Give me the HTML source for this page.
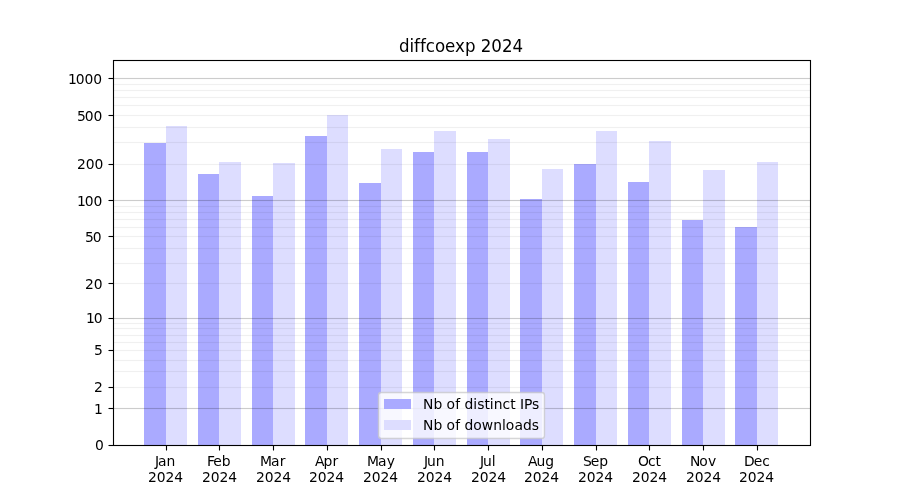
<!DOCTYPE html>
<html lang="en">
<head>
<meta charset="utf-8">
<title>diffcoexp 2024</title>
<style>
html,body{margin:0;padding:0;background:#ffffff;}
body{width:900px;height:500px;overflow:hidden;}
svg{display:block;}
</style>
</head>
<body>
<svg width="900" height="500" viewBox="0 0 900 500">
<rect x="0" y="0" width="900" height="500" fill="#ffffff"/>
<g shape-rendering="crispEdges">
<rect x="144" y="143" width="22" height="302" fill="#aaaaff"/>
<rect x="166" y="126" width="21" height="319" fill="#ddddff"/>
<rect x="198" y="174" width="21" height="271" fill="#aaaaff"/>
<rect x="219" y="162" width="22" height="283" fill="#ddddff"/>
<rect x="252" y="196" width="21" height="249" fill="#aaaaff"/>
<rect x="273" y="163" width="22" height="282" fill="#ddddff"/>
<rect x="305" y="136" width="22" height="309" fill="#aaaaff"/>
<rect x="327" y="115" width="21" height="330" fill="#ddddff"/>
<rect x="359" y="183" width="22" height="262" fill="#aaaaff"/>
<rect x="381" y="149" width="21" height="296" fill="#ddddff"/>
<rect x="413" y="152" width="21" height="293" fill="#aaaaff"/>
<rect x="434" y="131" width="22" height="314" fill="#ddddff"/>
<rect x="467" y="152" width="21" height="293" fill="#aaaaff"/>
<rect x="488" y="139" width="22" height="306" fill="#ddddff"/>
<rect x="520" y="199" width="22" height="246" fill="#aaaaff"/>
<rect x="542" y="169" width="21" height="276" fill="#ddddff"/>
<rect x="574" y="164" width="22" height="281" fill="#aaaaff"/>
<rect x="596" y="131" width="21" height="314" fill="#ddddff"/>
<rect x="628" y="182" width="21" height="263" fill="#aaaaff"/>
<rect x="649" y="141" width="22" height="304" fill="#ddddff"/>
<rect x="682" y="220" width="21" height="225" fill="#aaaaff"/>
<rect x="703" y="170" width="22" height="275" fill="#ddddff"/>
<rect x="735" y="227" width="22" height="218" fill="#aaaaff"/>
<rect x="757" y="162" width="21" height="283" fill="#ddddff"/>
</g>
<g shape-rendering="crispEdges" fill="#000000">
<rect x="166" y="446" width="1" height="4" fill-opacity="1"/><rect x="165" y="446" width="1" height="4" fill-opacity="0.0556"/><rect x="167" y="446" width="1" height="4" fill-opacity="0.0556"/><rect x="166" y="450" width="1" height="1" fill-opacity="0.5"/>
<rect x="219" y="446" width="1" height="4" fill-opacity="1"/><rect x="218" y="446" width="1" height="4" fill-opacity="0.0556"/><rect x="220" y="446" width="1" height="4" fill-opacity="0.0556"/><rect x="219" y="450" width="1" height="1" fill-opacity="0.5"/>
<rect x="273" y="446" width="1" height="4" fill-opacity="1"/><rect x="272" y="446" width="1" height="4" fill-opacity="0.0556"/><rect x="274" y="446" width="1" height="4" fill-opacity="0.0556"/><rect x="273" y="450" width="1" height="1" fill-opacity="0.5"/>
<rect x="327" y="446" width="1" height="4" fill-opacity="1"/><rect x="326" y="446" width="1" height="4" fill-opacity="0.0556"/><rect x="328" y="446" width="1" height="4" fill-opacity="0.0556"/><rect x="327" y="450" width="1" height="1" fill-opacity="0.5"/>
<rect x="381" y="446" width="1" height="4" fill-opacity="1"/><rect x="380" y="446" width="1" height="4" fill-opacity="0.0556"/><rect x="382" y="446" width="1" height="4" fill-opacity="0.0556"/><rect x="381" y="450" width="1" height="1" fill-opacity="0.5"/>
<rect x="434" y="446" width="1" height="4" fill-opacity="1"/><rect x="433" y="446" width="1" height="4" fill-opacity="0.0556"/><rect x="435" y="446" width="1" height="4" fill-opacity="0.0556"/><rect x="434" y="450" width="1" height="1" fill-opacity="0.5"/>
<rect x="488" y="446" width="1" height="4" fill-opacity="1"/><rect x="487" y="446" width="1" height="4" fill-opacity="0.0556"/><rect x="489" y="446" width="1" height="4" fill-opacity="0.0556"/><rect x="488" y="450" width="1" height="1" fill-opacity="0.5"/>
<rect x="542" y="446" width="1" height="4" fill-opacity="1"/><rect x="541" y="446" width="1" height="4" fill-opacity="0.0556"/><rect x="543" y="446" width="1" height="4" fill-opacity="0.0556"/><rect x="542" y="450" width="1" height="1" fill-opacity="0.5"/>
<rect x="596" y="446" width="1" height="4" fill-opacity="1"/><rect x="595" y="446" width="1" height="4" fill-opacity="0.0556"/><rect x="597" y="446" width="1" height="4" fill-opacity="0.0556"/><rect x="596" y="450" width="1" height="1" fill-opacity="0.5"/>
<rect x="649" y="446" width="1" height="4" fill-opacity="1"/><rect x="648" y="446" width="1" height="4" fill-opacity="0.0556"/><rect x="650" y="446" width="1" height="4" fill-opacity="0.0556"/><rect x="649" y="450" width="1" height="1" fill-opacity="0.5"/>
<rect x="703" y="446" width="1" height="4" fill-opacity="1"/><rect x="702" y="446" width="1" height="4" fill-opacity="0.0556"/><rect x="704" y="446" width="1" height="4" fill-opacity="0.0556"/><rect x="703" y="450" width="1" height="1" fill-opacity="0.5"/>
<rect x="757" y="446" width="1" height="4" fill-opacity="1"/><rect x="756" y="446" width="1" height="4" fill-opacity="0.0556"/><rect x="758" y="446" width="1" height="4" fill-opacity="0.0556"/><rect x="757" y="450" width="1" height="1" fill-opacity="0.5"/>
<rect x="109" y="445" width="4" height="1" fill-opacity="1"/><rect x="109" y="444" width="4" height="1" fill-opacity="0.0556"/><rect x="109" y="446" width="4" height="1" fill-opacity="0.0556"/><rect x="108" y="445" width="1" height="1" fill-opacity="0.5"/>
<rect x="109" y="408" width="4" height="1" fill-opacity="1"/><rect x="109" y="407" width="4" height="1" fill-opacity="0.0556"/><rect x="109" y="409" width="4" height="1" fill-opacity="0.0556"/><rect x="108" y="408" width="1" height="1" fill-opacity="0.5"/>
<rect x="109" y="387" width="4" height="1" fill-opacity="1"/><rect x="109" y="386" width="4" height="1" fill-opacity="0.0556"/><rect x="109" y="388" width="4" height="1" fill-opacity="0.0556"/><rect x="108" y="387" width="1" height="1" fill-opacity="0.5"/>
<rect x="109" y="350" width="4" height="1" fill-opacity="1"/><rect x="109" y="349" width="4" height="1" fill-opacity="0.0556"/><rect x="109" y="351" width="4" height="1" fill-opacity="0.0556"/><rect x="108" y="350" width="1" height="1" fill-opacity="0.5"/>
<rect x="109" y="318" width="4" height="1" fill-opacity="1"/><rect x="109" y="317" width="4" height="1" fill-opacity="0.0556"/><rect x="109" y="319" width="4" height="1" fill-opacity="0.0556"/><rect x="108" y="318" width="1" height="1" fill-opacity="0.5"/>
<rect x="109" y="283" width="4" height="1" fill-opacity="1"/><rect x="109" y="282" width="4" height="1" fill-opacity="0.0556"/><rect x="109" y="284" width="4" height="1" fill-opacity="0.0556"/><rect x="108" y="283" width="1" height="1" fill-opacity="0.5"/>
<rect x="109" y="236" width="4" height="1" fill-opacity="1"/><rect x="109" y="235" width="4" height="1" fill-opacity="0.0556"/><rect x="109" y="237" width="4" height="1" fill-opacity="0.0556"/><rect x="108" y="236" width="1" height="1" fill-opacity="0.5"/>
<rect x="109" y="200" width="4" height="1" fill-opacity="1"/><rect x="109" y="199" width="4" height="1" fill-opacity="0.0556"/><rect x="109" y="201" width="4" height="1" fill-opacity="0.0556"/><rect x="108" y="200" width="1" height="1" fill-opacity="0.5"/>
<rect x="109" y="164" width="4" height="1" fill-opacity="1"/><rect x="109" y="163" width="4" height="1" fill-opacity="0.0556"/><rect x="109" y="165" width="4" height="1" fill-opacity="0.0556"/><rect x="108" y="164" width="1" height="1" fill-opacity="0.5"/>
<rect x="109" y="115" width="4" height="1" fill-opacity="1"/><rect x="109" y="114" width="4" height="1" fill-opacity="0.0556"/><rect x="109" y="116" width="4" height="1" fill-opacity="0.0556"/><rect x="108" y="115" width="1" height="1" fill-opacity="0.5"/>
<rect x="109" y="78" width="4" height="1" fill-opacity="1"/><rect x="109" y="77" width="4" height="1" fill-opacity="0.0556"/><rect x="109" y="79" width="4" height="1" fill-opacity="0.0556"/><rect x="108" y="78" width="1" height="1" fill-opacity="0.5"/>
<rect x="114" y="408" width="696" height="1" fill-opacity="0.2"/><rect x="114" y="407" width="696" height="1" fill-opacity="0.01112"/><rect x="114" y="409" width="696" height="1" fill-opacity="0.01112"/>
<rect x="114" y="387" width="696" height="1" fill-opacity="0.06"/><rect x="114" y="386" width="696" height="1" fill-opacity="0.003336"/><rect x="114" y="388" width="696" height="1" fill-opacity="0.003336"/>
<rect x="114" y="371" width="696" height="1" fill-opacity="0.06"/><rect x="114" y="370" width="696" height="1" fill-opacity="0.003336"/><rect x="114" y="372" width="696" height="1" fill-opacity="0.003336"/>
<rect x="114" y="360" width="696" height="1" fill-opacity="0.06"/><rect x="114" y="359" width="696" height="1" fill-opacity="0.003336"/><rect x="114" y="361" width="696" height="1" fill-opacity="0.003336"/>
<rect x="114" y="350" width="696" height="1" fill-opacity="0.06"/><rect x="114" y="349" width="696" height="1" fill-opacity="0.003336"/><rect x="114" y="351" width="696" height="1" fill-opacity="0.003336"/>
<rect x="114" y="342" width="696" height="1" fill-opacity="0.06"/><rect x="114" y="341" width="696" height="1" fill-opacity="0.003336"/><rect x="114" y="343" width="696" height="1" fill-opacity="0.003336"/>
<rect x="114" y="335" width="696" height="1" fill-opacity="0.06"/><rect x="114" y="334" width="696" height="1" fill-opacity="0.003336"/><rect x="114" y="336" width="696" height="1" fill-opacity="0.003336"/>
<rect x="114" y="328" width="696" height="1" fill-opacity="0.06"/><rect x="114" y="327" width="696" height="1" fill-opacity="0.003336"/><rect x="114" y="329" width="696" height="1" fill-opacity="0.003336"/>
<rect x="114" y="323" width="696" height="1" fill-opacity="0.06"/><rect x="114" y="322" width="696" height="1" fill-opacity="0.003336"/><rect x="114" y="324" width="696" height="1" fill-opacity="0.003336"/>
<rect x="114" y="318" width="696" height="1" fill-opacity="0.2"/><rect x="114" y="317" width="696" height="1" fill-opacity="0.01112"/><rect x="114" y="319" width="696" height="1" fill-opacity="0.01112"/>
<rect x="114" y="283" width="696" height="1" fill-opacity="0.06"/><rect x="114" y="282" width="696" height="1" fill-opacity="0.003336"/><rect x="114" y="284" width="696" height="1" fill-opacity="0.003336"/>
<rect x="114" y="263" width="696" height="1" fill-opacity="0.06"/><rect x="114" y="262" width="696" height="1" fill-opacity="0.003336"/><rect x="114" y="264" width="696" height="1" fill-opacity="0.003336"/>
<rect x="114" y="248" width="696" height="1" fill-opacity="0.06"/><rect x="114" y="247" width="696" height="1" fill-opacity="0.003336"/><rect x="114" y="249" width="696" height="1" fill-opacity="0.003336"/>
<rect x="114" y="236" width="696" height="1" fill-opacity="0.06"/><rect x="114" y="235" width="696" height="1" fill-opacity="0.003336"/><rect x="114" y="237" width="696" height="1" fill-opacity="0.003336"/>
<rect x="114" y="227" width="696" height="1" fill-opacity="0.06"/><rect x="114" y="226" width="696" height="1" fill-opacity="0.003336"/><rect x="114" y="228" width="696" height="1" fill-opacity="0.003336"/>
<rect x="114" y="219" width="696" height="1" fill-opacity="0.06"/><rect x="114" y="218" width="696" height="1" fill-opacity="0.003336"/><rect x="114" y="220" width="696" height="1" fill-opacity="0.003336"/>
<rect x="114" y="212" width="696" height="1" fill-opacity="0.06"/><rect x="114" y="211" width="696" height="1" fill-opacity="0.003336"/><rect x="114" y="213" width="696" height="1" fill-opacity="0.003336"/>
<rect x="114" y="206" width="696" height="1" fill-opacity="0.06"/><rect x="114" y="205" width="696" height="1" fill-opacity="0.003336"/><rect x="114" y="207" width="696" height="1" fill-opacity="0.003336"/>
<rect x="114" y="200" width="696" height="1" fill-opacity="0.2"/><rect x="114" y="199" width="696" height="1" fill-opacity="0.01112"/><rect x="114" y="201" width="696" height="1" fill-opacity="0.01112"/>
<rect x="114" y="164" width="696" height="1" fill-opacity="0.06"/><rect x="114" y="163" width="696" height="1" fill-opacity="0.003336"/><rect x="114" y="165" width="696" height="1" fill-opacity="0.003336"/>
<rect x="114" y="142" width="696" height="1" fill-opacity="0.06"/><rect x="114" y="141" width="696" height="1" fill-opacity="0.003336"/><rect x="114" y="143" width="696" height="1" fill-opacity="0.003336"/>
<rect x="114" y="127" width="696" height="1" fill-opacity="0.06"/><rect x="114" y="126" width="696" height="1" fill-opacity="0.003336"/><rect x="114" y="128" width="696" height="1" fill-opacity="0.003336"/>
<rect x="114" y="115" width="696" height="1" fill-opacity="0.06"/><rect x="114" y="114" width="696" height="1" fill-opacity="0.003336"/><rect x="114" y="116" width="696" height="1" fill-opacity="0.003336"/>
<rect x="114" y="105" width="696" height="1" fill-opacity="0.06"/><rect x="114" y="104" width="696" height="1" fill-opacity="0.003336"/><rect x="114" y="106" width="696" height="1" fill-opacity="0.003336"/>
<rect x="114" y="97" width="696" height="1" fill-opacity="0.06"/><rect x="114" y="96" width="696" height="1" fill-opacity="0.003336"/><rect x="114" y="98" width="696" height="1" fill-opacity="0.003336"/>
<rect x="114" y="90" width="696" height="1" fill-opacity="0.06"/><rect x="114" y="89" width="696" height="1" fill-opacity="0.003336"/><rect x="114" y="91" width="696" height="1" fill-opacity="0.003336"/>
<rect x="114" y="84" width="696" height="1" fill-opacity="0.06"/><rect x="114" y="83" width="696" height="1" fill-opacity="0.003336"/><rect x="114" y="85" width="696" height="1" fill-opacity="0.003336"/>
<rect x="114" y="78" width="696" height="1" fill-opacity="0.2"/><rect x="114" y="77" width="696" height="1" fill-opacity="0.01112"/><rect x="114" y="79" width="696" height="1" fill-opacity="0.01112"/>
<rect x="113" y="60" width="1" height="386" fill-opacity="1"/><rect x="112" y="60" width="1" height="386" fill-opacity="0.0556"/><rect x="114" y="60" width="1" height="386" fill-opacity="0.0556"/>
<rect x="810" y="60" width="1" height="386" fill-opacity="1"/><rect x="809" y="60" width="1" height="386" fill-opacity="0.0556"/><rect x="811" y="60" width="1" height="386" fill-opacity="0.0556"/>
<rect x="113" y="60" width="698" height="1" fill-opacity="1"/><rect x="113" y="59" width="698" height="1" fill-opacity="0.0556"/><rect x="113" y="61" width="698" height="1" fill-opacity="0.0556"/>
<rect x="113" y="445" width="698" height="1" fill-opacity="1"/><rect x="113" y="444" width="698" height="1" fill-opacity="0.0556"/><rect x="113" y="446" width="698" height="1" fill-opacity="0.0556"/>
</g>
<rect x="378.5" y="392.5" width="166.0" height="46.0" rx="2.778" ry="2.778" fill="#ffffff" stroke="#cccccc" stroke-width="1.3889" opacity="0.8"/>
<rect x="384" y="399" width="27" height="10" fill="#aaaaff" shape-rendering="crispEdges"/>
<rect x="384" y="420" width="27" height="10" fill="#ddddff" shape-rendering="crispEdges"/>
<g font-family="'DejaVu Sans', 'Liberation Sans', sans-serif" fill="#000000">
<text x="154.99 157.95 166.46" y="465.526" font-size="13.8889">Jan</text>
<text x="148.03 156.71 165.42 174.24" y="481.578" font-size="13.8889">2024</text>
<text x="206.89 213.24 221.64" y="465.526" font-size="13.8889">Feb</text>
<text x="201.89 210.70 219.40 228.23" y="481.578" font-size="13.8889">2024</text>
<text x="259.94 270.91 279.66" y="465.526" font-size="13.8889">Mar</text>
<text x="256.00 264.69 273.39 282.22" y="481.578" font-size="13.8889">2024</text>
<text x="314.89 323.38 332.44" y="465.526" font-size="13.8889">Apr</text>
<text x="308.99 317.80 326.38 335.20" y="481.578" font-size="13.8889">2024</text>
<text x="366.91 377.88 386.63" y="465.526" font-size="13.8889">May</text>
<text x="362.97 371.66 380.49 389.19" y="481.578" font-size="13.8889">2024</text>
<text x="423.91 426.98 435.66" y="465.526" font-size="13.8889">Jun</text>
<text x="416.96 425.65 434.47 443.18" y="481.578" font-size="13.8889">2024</text>
<text x="479.99 482.94 491.74" y="465.526" font-size="13.8889">Jul</text>
<text x="470.94 479.63 488.46 497.16" y="481.578" font-size="13.8889">2024</text>
<text x="527.92 536.40 545.20" y="465.526" font-size="13.8889">Aug</text>
<text x="523.93 532.74 541.45 550.15" y="481.578" font-size="13.8889">2024</text>
<text x="582.88 590.67 599.22" y="465.526" font-size="13.8889">Sep</text>
<text x="577.92 586.73 595.43 604.14" y="481.578" font-size="13.8889">2024</text>
<text x="637.95 647.98 655.49" y="465.526" font-size="13.8889">Oct</text>
<text x="631.90 640.72 649.42 658.25" y="481.578" font-size="13.8889">2024</text>
<text x="689.88 699.13 707.99" y="465.526" font-size="13.8889">Nov</text>
<text x="685.89 694.70 703.41 712.23" y="481.578" font-size="13.8889">2024</text>
<text x="743.99 753.66 762.21" y="465.526" font-size="13.8889">Dec</text>
<text x="738.88 747.69 756.39 765.22" y="481.578" font-size="13.8889">2024</text>
<text x="94.95" y="449.777" font-size="13.8889">0</text>
<text x="93.95" y="413.747" font-size="13.8889">1</text>
<text x="93.95" y="391.732" font-size="13.8889">2</text>
<text x="93.95" y="354.702" font-size="13.8889">5</text>
<text x="86.00 93.68" y="322.539" font-size="13.8889">10</text>
<text x="85.00 93.68" y="288.728" font-size="13.8889">20</text>
<text x="85.00 92.68" y="241.646" font-size="13.8889">50</text>
<text x="76.92 84.73 93.43" y="205.639" font-size="13.8889">100</text>
<text x="76.92 85.73 94.43" y="168.622" font-size="13.8889">200</text>
<text x="76.92 84.73 93.43" y="120.661" font-size="13.8889">500</text>
<text x="67.97 75.65 84.48 93.18" y="83.684" font-size="13.8889">1000</text>
<text transform="translate(0 51.667) scale(1 1.04)" x="398.95 409.39 413.89 419.89 425.75 434.91 444.97 454.92 464.91 475.36 480.66 491.25 501.97 512.44" y="0" font-size="16.6667">diffcoexp 2024</text>
<text x="422.99 433.49 442.42 446.46 455.20 460.21 464.49 473.18 477.15 484.39 489.70 493.68 502.48 510.23 515.67 519.95 523.92 531.92" y="408.725" font-size="13.8889">Nb of distinct IPs</text>
<text x="422.99 433.49 442.42 446.46 455.20 460.21 464.49 473.18 481.67 493.14 501.93 505.67 514.40 522.90 531.71" y="429.612" font-size="13.8889">Nb of downloads</text>
</g>
</svg>
</body>
</html>
